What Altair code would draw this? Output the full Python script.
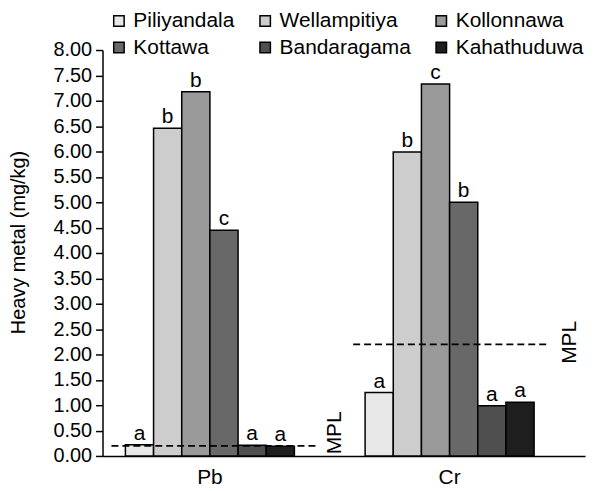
import altair as alt
import pandas as pd

sites = ["Piliyandala", "Wellampitiya", "Kollonnawa", "Kottawa", "Bandaragama", "Kahathuduwa"]
colors = ["#e8e8e8", "#cdcdcd", "#9a9a9a", "#686868", "#4f4f4f", "#1e1e1e"]
metals = ["Pb", "Cr"]
pb_values = [0.22, 6.46, 7.18, 4.45, 0.21, 0.19]
cr_values = [1.25, 5.99, 7.33, 5.00, 0.99, 1.06]
pb_letters = ["a", "b", "b", "c", "a", "a"]
cr_letters = ["a", "b", "c", "b", "a", "a"]
mpl_values = [0.2, 2.2]
y_ticks = [0.0, 0.5, 1.0, 1.5, 2.0, 2.5, 3.0, 3.5, 4.0, 4.5, 5.0, 5.5, 6.0, 6.5, 7.0, 7.5, 8.0]

rows = []
for s, v, l in zip(sites, pb_values, pb_letters):
    rows.append({"metal": "Pb", "site": s, "value": v, "letter": l})
for s, v, l in zip(sites, cr_values, cr_letters):
    rows.append({"metal": "Cr", "site": s, "value": v, "letter": l})
df = pd.DataFrame(rows)
mpl_df = pd.DataFrame({"metal": metals, "value": mpl_values, "label": ["MPL", "MPL"]})

FONT = "Liberation Sans"

xscale = alt.Scale(domain=metals, paddingInner=0.295, paddingOuter=0.154, align=0.31)
xaxis = alt.Axis(title=None, ticks=False, labelPadding=11, labelFontSize=21, labelFont=FONT,
                 labelColor="black", domainColor="black", domainWidth=1.5, labelAngle=0)
yscale = alt.Scale(domain=[0, 8], nice=False, zero=True)
yaxis = alt.Axis(title="Heavy metal (mg/kg)", values=y_ticks, format=".2f",
                 grid=False, tickSize=7, tickColor="black", tickWidth=1.5, labelPadding=4,
                 labelOverlap=False, labelFontSize=20, labelFont=FONT, labelColor="black",
                 labelBound=False,
                 domainColor="black", domainWidth=1.5,
                 titleFontSize=20, titleFont=FONT, titleFontWeight="normal", titleColor="black",
                 titleAngle=270, titleAlign="center", titleBaseline="middle",
                 titleX=-84, titleY=193)


def y_enc():
    return alt.Y("value:Q", scale=yscale, axis=yaxis)


base = alt.Chart(df)
x_enc = alt.X("metal:N", sort=metals, scale=xscale, axis=xaxis)
xo_enc = alt.XOffset("site:N", sort=sites, scale=alt.Scale(domain=sites, paddingInner=0, paddingOuter=0))

bars = base.mark_bar(stroke="black", strokeWidth=1.5).encode(
    x=x_enc, xOffset=xo_enc, y=y_enc(),
    color=alt.Color("site:N", sort=sites, scale=alt.Scale(domain=sites, range=colors),
                    legend=alt.Legend(title=None, orient="none", legendX=6, legendY=-40,
                                      columns=3, direction="horizontal",
                                      symbolType="square", symbolSize=110,
                                      symbolStrokeColor="black", symbolStrokeWidth=1.5,
                                      symbolOpacity=1,
                                      labelFontSize=21, labelFont=FONT, labelColor="black",
                                      labelOffset=4, columnPadding=20, rowPadding=5,
                                      padding=0, labelLimit=300)),
)

letters = base.mark_text(fontSize=21, font=FONT, color="black", baseline="alphabetic", dy=-5).encode(
    x=alt.X("metal:N", sort=metals, scale=xscale, axis=xaxis), xOffset=xo_enc, y=y_enc(),
    text="letter:N",
)

layers = [bars, letters]
for metal, o1, o2, ot, up in [("Pb", -14, 24, 41, -13), ("Cr", -12, 16, 36, -2)]:
    mb = alt.Chart(mpl_df).transform_filter(alt.datum.metal == metal)
    layers.append(mb.mark_rule(strokeDash=[7, 4], strokeWidth=1.8, color="black",
                               xOffset=o1, x2Offset=o2).encode(
        x=alt.X("metal:N", sort=metals, bandPosition=0, scale=xscale, axis=xaxis),
        x2=alt.X2("metal", bandPosition=1),
        y=y_enc(),
    ))
    layers.append(mb.mark_text(angle=270, fontSize=21, font=FONT, color="black",
                               align="center", baseline="middle", xOffset=ot, yOffset=up).encode(
        x=alt.X("metal:N", sort=metals, bandPosition=1, scale=xscale, axis=xaxis),
        y=y_enc(),
        text="label:N",
    ))

chart = alt.layer(*layers).properties(
    width=485, height=408,
    padding={"left": 95, "top": 41, "right": 8, "bottom": 34},
    autosize=alt.AutoSizeParams(type="none"),
).configure_view(stroke=None).configure_axis(labelFont=FONT, titleFont=FONT)

chart.save("out.html", embed_options={"renderer": "svg", "actions": False})
